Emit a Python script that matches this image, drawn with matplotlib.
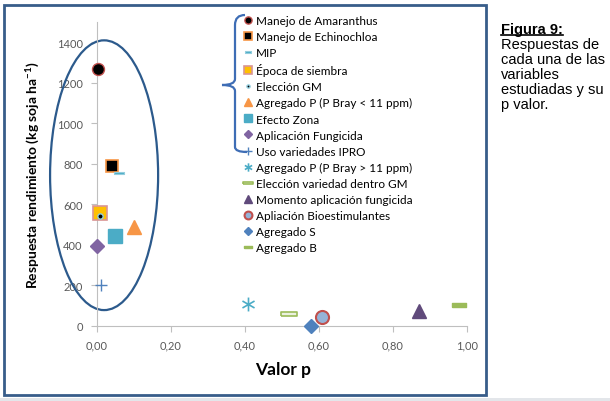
import matplotlib.pyplot as plt
from matplotlib.patches import Ellipse, Rectangle, PathPatch
from matplotlib.path import Path
from matplotlib.lines import Line2D

# --- datos ---
nombres = ["Manejo de Amaranthus", "Manejo de Echinochloa", "MIP", "Época de siembra",
           "Elección GM", "Agregado P (P Bray < 11 ppm)", "Efecto Zona",
           "Aplicación Fungicida", "Uso variedades IPRO", "Agregado P (P Bray > 11 ppm)",
           "Elección variedad dentro GM", "Momento aplicación fungicida",
           "Apliación Bioestimulantes", "Agregado S", "Agregado B"]
valor_p = [0.003, 0.04, 0.06, 0.009, 0.01, 0.10, 0.05, 0.0, 0.011, 0.41, 0.52, 0.87, 0.61, 0.58, 0.98]
respuesta = [1270, 790, 755, 560, 545, 490, 445, 395, 200, 110, 60, 75, 45, 0, 105]

xticks = [0.0, 0.2, 0.4, 0.6, 0.8, 1.0]
xtick_labels = ["0,00", "0,20", "0,40", "0,60", "0,80", "1,00"]
yticks = [0, 200, 400, 600, 800, 1000, 1200, 1400]
ytick_labels = ["0", "200", "400", "600", "800", "1000", "1200", "1400"]

# --- marcadores tipo Excel ---
rect = Path([(-1, -0.3), (1, -0.3), (1, 0.3), (-1, 0.3), (-1, -0.3)])
asterisco = Path([(0, -1), (0, 1), (-0.87, -0.5), (0.87, 0.5), (-0.87, 0.5), (0.87, -0.5)],
                 [Path.MOVETO, Path.LINETO] * 3)

# marker, relleno, borde, tamaño (pt), grosor borde
estilos = [
    ("o", "black", "#C0504D", 8.6, 1.0),
    ("s", "black", "#F79646", 8.6, 1.2),
    (rect, "#4BACC6", "#93CDDD", 6.5, 0.8),
    ("s", "#FFC000", "#D99594", 9.4, 1.2),
    ("o", "black", "#93CDDD", 3.8, 1.0),
    ("^", "#F79646", "#F79646", 10, 1.0),
    ("s", "#4BACC6", "#4BACC6", 10, 1.0),
    ("D", "#8064A2", "#8064A2", 7.0, 1.0),
    ("+", "#4F81BD", "#4F81BD", 9, 1.0),
    (asterisco, "none", "#4BACC6", 10, 1.2),
    (rect, "#EBF1DE", "#9BBB59", 11, 1.2),
    ("^", "#604A7B", "#604A7B", 10, 1.0),
    ("o", "#95B3D7", "#C0504D", 9.4, 1.5),
    ("D", "#4F81BD", "#4F81BD", 7.0, 1.0),
    (rect, "#9BBB59", "#9BBB59", 9.5, 1.0),
]

plt.rcParams['font.family'] = ['Lato', 'DejaVu Sans']
plt.rcParams['mathtext.fontset'] = 'custom'
plt.rcParams['mathtext.rm'] = 'Lato:bold'
plt.rcParams['mathtext.default'] = 'rm'

fig = plt.figure(figsize=(6.1, 4.02), dpi=100)
ax = fig.add_axes([96.7 / 610, 75 / 402, 370 / 610, 304 / 402])

handles = []
for nombre, x, y, (m, fc, ec, ms, mew) in zip(nombres, valor_p, respuesta, estilos):
    h, = ax.plot([x], [y], linestyle="none", marker=m, markerfacecolor=fc,
                 markeredgecolor=ec, markersize=ms, markeredgewidth=mew,
                 clip_on=False, zorder=3, label=nombre)
    handles.append(h)

ax.set_xlim(0, 1.0)
ax.set_ylim(0, 1500)
ax.set_xticks(xticks, xtick_labels)
ax.set_yticks(yticks, ytick_labels)
for s in ["top", "right"]:
    ax.spines[s].set_visible(False)
for s in ["left", "bottom"]:
    ax.spines[s].set_color("#BFBFBF")
ax.tick_params(colors="#BFBFBF", labelcolor="#595959", labelsize=8, length=4, pad=6)

# elipse que agrupa las variables significativas
ax.add_patch(Ellipse((0.02, 744), 0.292, 1331, fill=False, edgecolor="#2C5A8C",
                     linewidth=1.6, clip_on=False, zorder=2))

fig.text(33 / 610, 1 - 175 / 402, "Respuesta rendimiento (kg soja ha$^{-1}$)",
         rotation=90, ha="center", va="center", fontsize=10, fontweight="bold")
fig.text(283 / 610, 1 - 370 / 402, "Valor p", ha="center", va="center",
         fontsize=12.5, fontweight="bold")

leg = ax.legend(handles=handles, loc="upper left", bbox_to_anchor=(244 / 610, 1 - 16 / 402),
                bbox_transform=fig.transFigure, frameon=False, fontsize=8.5,
                markerscale=0.6, handlelength=0.7, handletextpad=0.3,
                labelspacing=0.43, borderpad=0, borderaxespad=0)

# llave azul
px = lambda x, y: (x / 610, 1 - y / 402)
verts = [px(245, 16), px(235, 16), px(235, 26), px(235, 80), px(235, 86), px(222, 86),
         px(235, 86), px(235, 92), px(235, 148), px(235, 153), px(247, 153)]
codes = [Path.MOVETO, Path.CURVE3, Path.CURVE3, Path.LINETO, Path.CURVE3, Path.CURVE3,
         Path.CURVE3, Path.CURVE3, Path.LINETO, Path.CURVE3, Path.CURVE3]
fig.add_artist(PathPatch(Path(verts, codes), fill=False, edgecolor="#3E6DB5",
                         linewidth=1.6, transform=fig.transFigure))

# marco del gráfico
fig.add_artist(Rectangle((4 / 610, 6 / 402), 482 / 610, 390 / 402, fill=False,
                         edgecolor="#385D8A", linewidth=2, transform=fig.transFigure))
fig.add_artist(Rectangle((0, 0), 1, 3 / 402, facecolor="#E3E6EA", edgecolor="none",
                         transform=fig.transFigure))

# texto lateral
tit = fig.text(501 / 610, 1 - 34 / 402, "Figura 9:", family="Liberation Sans",
               fontweight="bold", fontsize=10.5, ha="left", va="baseline")
fig.text(501 / 610, 1 - 38 / 402,
         "Respuestas de\ncada una de las\nvariables\nestudiadas y su\np valor.",
         family="Liberation Sans", fontsize=10.5, ha="left", va="top", linespacing=1.08)
fig.canvas.draw()
bb = tit.get_window_extent()
fig.add_artist(Line2D([bb.x0 / 610, bb.x1 / 610], [(bb.y0 + 1) / 402] * 2,
                      color="black", linewidth=1.2, transform=fig.transFigure))

fig.savefig("out.png", dpi=100)
